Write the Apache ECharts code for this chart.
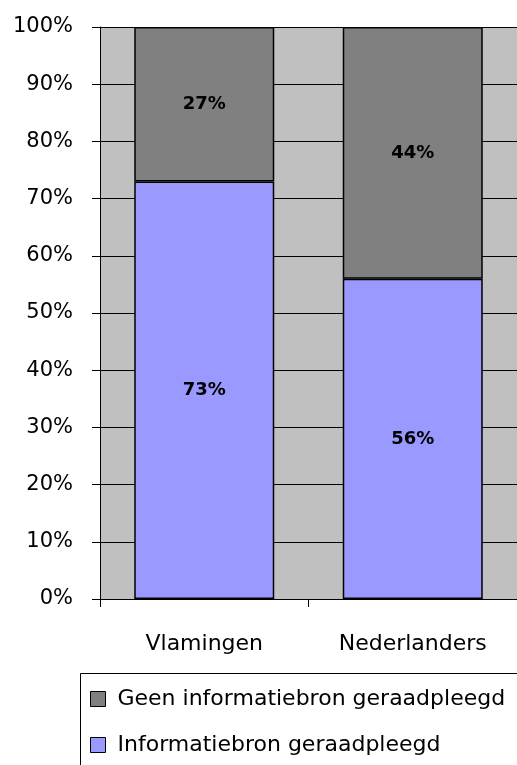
<!DOCTYPE html>
<html>
<head>
<meta charset="utf-8">
<script src="https://cdn.jsdelivr.net/npm/echarts@6/dist/echarts.min.js"></script>
<style>
  html, body { margin: 0; padding: 0; background: #fff; }
  #chart { width: 517px; height: 765px; }
</style>
</head>
<body>
<div id="chart"></div>
<script>
const categories = ['Vlamingen', 'Nederlanders'];
const geraadpleegd = [73, 56];
const geenGeraadpleegd = [27, 44];
const serieNamen = ['Geen informatiebron geraadpleegd', 'Informatiebron geraadpleegd'];

const fontFam = 'DejaVu Sans';

const myChart = echarts.init(document.getElementById('chart'));

const labelStyle = {
  show: true,
  position: 'inside',
  formatter: '{c}%',
  color: '#000',
  fontWeight: 'bold',
  fontSize: 18,
  fontFamily: fontFam
};

const option = {
  animation: false,
  textStyle: { fontFamily: fontFam },
  grid: {
    left: 100,
    top: 27,
    bottom: 166,
    right: -3,
    show: true,
    backgroundColor: '#c0c0c0',
    borderWidth: 0
  },
  // legend frame (runs off the page, like the original)
  graphic: [
    {
      type: 'rect',
      left: 80,
      top: 673,
      z: 0,
      shape: { width: 520, height: 200 },
      style: { fill: '#fff', stroke: '#000', lineWidth: 1 }
    }
  ],
  legend: {
    orient: 'vertical',
    left: 90,
    top: 688,
    padding: 0,
    data: serieNamen,
    icon: 'rect',
    itemWidth: 15,
    itemHeight: 15,
    itemGap: 24,
    itemStyle: { borderColor: '#000', borderWidth: 1 },
    textStyle: {
      fontFamily: fontFam,
      fontSize: 22,
      lineHeight: 20,
      color: '#000',
      padding: [0, 0, 0, 7]
    }
  },
  xAxis: {
    type: 'category',
    data: categories,
    axisLine: { lineStyle: { color: '#000', width: 1 } },
    axisTick: { show: true, length: 8, lineStyle: { color: '#000' } },
    axisLabel: { margin: 34, fontSize: 22, color: '#000', fontFamily: fontFam }
  },
  yAxis: {
    type: 'value',
    min: 0,
    max: 100,
    interval: 10,
    axisLine: { show: true, lineStyle: { color: '#000', width: 1 } },
    axisTick: { show: true, length: 8, lineStyle: { color: '#000' } },
    splitLine: { show: true, lineStyle: { color: '#000', width: 1 } },
    axisLabel: {
      formatter: '{value}%',
      margin: 27,
      fontSize: 21,
      color: '#000',
      fontFamily: fontFam
    }
  },
  series: [
    {
      name: serieNamen[1],
      type: 'bar',
      stack: 'totaal',
      data: geraadpleegd,
      barWidth: 140,
      itemStyle: { color: '#9999ff', borderColor: '#000', borderWidth: 1.5 },
      label: labelStyle
    },
    {
      name: serieNamen[0],
      type: 'bar',
      stack: 'totaal',
      data: geenGeraadpleegd,
      barWidth: 140,
      itemStyle: { color: '#808080', borderColor: '#000', borderWidth: 1.5 },
      label: labelStyle
    }
  ]
};

myChart.setOption(option);
</script>
</body>
</html>
